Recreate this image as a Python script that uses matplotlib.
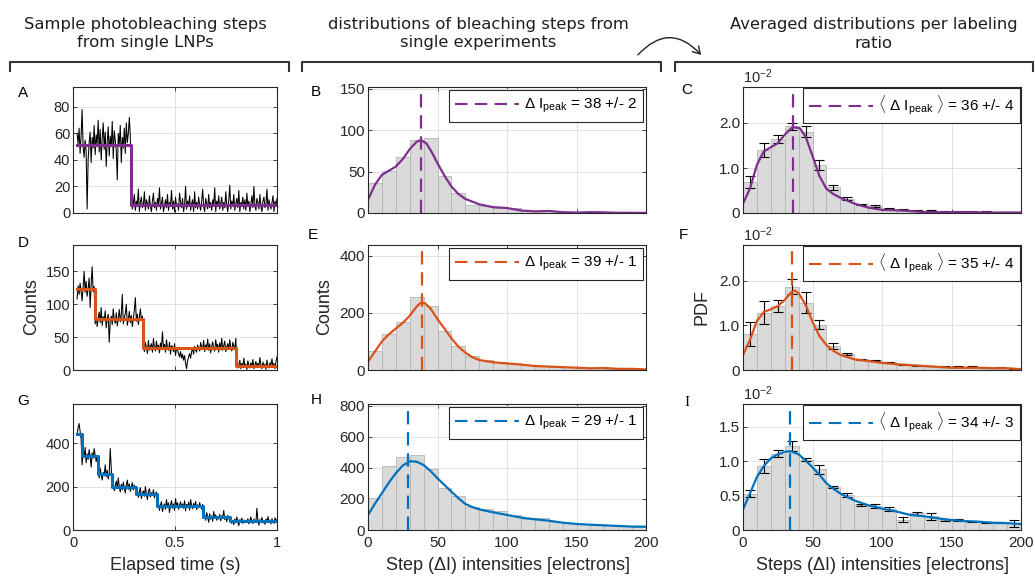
import numpy as np
import matplotlib.pyplot as plt
from matplotlib.lines import Line2D
from matplotlib.patches import FancyArrowPatch

plt.rcParams['font.family'] = ['Liberation Sans', 'DejaVu Sans']
plt.rcParams['mathtext.fontset'] = 'custom'
plt.rcParams['mathtext.rm'] = 'Liberation Sans'
plt.rcParams['mathtext.it'] = 'Liberation Sans:italic'

PURPLE = '#7E2F8E'
ORANGE = '#D95319'
BLUE = '#0072BD'
DARK = '#262626'

# ---- column 1: photobleaching traces (counts), sampled evenly from t0 to 1 s
trace_a = [60, 52, 64, 45, 58, 78, 50, 42, 55, 47, 3, 40, 53, 61, 38, 57, 49, 66, 44, 59,
           52, 70, 46, 63, 40, 56, 68, 48, 61, 35, 54, 65, 43, 58, 50, 69, 41, 62, 55, 47,
           25, 60, 52, 66, 38, 57, 49, 64, 45, 68, 53, 60, 72, 58,
           10, 3, 7, 14, 2, 9, 5, 18, 1, 8, 12, 4, 6, 16, 2, 10, 7, 3, 13, 5,
           1, 9, 15, 4, 8, 2, 11, 6, 19, 3, 7, 12, 1, 5, 10, 4, 14, 2, 8, 6,
           17, 3, 9, 1, 12, 5, 7, 2, 15, 8, 4, 11, 1, 6, 20, 3, 9, 5, 13, 2,
           7, 10, 1, 16, 4, 8, 3, 12, 6, 2, 9, 18, 5, 1, 11, 7, 3, 14, 4, 8,
           2, 10, 6, 19, 1, 9, 5, 13, 3, 7, 12, 2, 8, 4, 16, 6, 1, 10, 21, 3,
           9, 5, 14, 2, 7, 11, 4, 17, 1, 8, 6, 12, 3, 10, 2, 15, 5, 9, 1, 7,
           13, 4, 20, 6, 2, 11, 8, 3, 14, 5, 1, 9, 12, 4, 7, 18, 2, 10, 6, 3,
           8, 13, 1, 9, 5, 11]
steps_a_t = [0.02, 0.283, 1.0]
steps_a_y = [51, 6]

trace_d = [108, 128, 115, 132, 120, 105, 126, 150, 118, 135, 112, 124, 140, 95, 130, 157, 119, 127,
           70, 84, 66, 79, 88, 72, 95, 68, 81, 75, 90, 64, 78, 85, 42, 74, 82, 69, 93, 76,
           71, 87, 67, 80, 92, 73, 84, 115, 70, 79, 86, 100, 68, 77, 89, 72, 83, 66, 78, 91,
           110, 74, 85, 69, 80, 93, 75, 82,
           38, 28, 42, 33, 25, 45, 30, 36, 40, 27, 48, 34, 29, 44, 31, 38, 26, 41, 35, 58,
           32, 39, 27, 46, 33, 30, 42, 24, 37, 35, 28, 40, 22, 34, 30, 25, 20, 28, 18, 24,
           15, 22, 10, 2, 14, 20, 25, 18, 28, 32, 24, 36, 30, 27, 38, 33, 29, 42, 35, 31,
           45, 28, 38, 34, 47, 30, 40, 26, 36, 43, 32, 29, 46, 35, 39, 27, 41, 33, 48, 30,
           37, 44, 28, 35, 40, 31, 46, 34, 29, 42, 36, 33, 48,
           12, 3, 8, 15, 2, 10, 6, 18, 4, 9, 1, 14, 7, 3, 11, 5, 16, 2, 8, 13,
           4, 10, 6, 19, 7, 2, 12, 5, 9, 1, 15, 6, 3, 11, 8, 17, 4, 10, 2, 13, 20]
steps_d_t = [0.02, 0.108, 0.345, 0.80, 1.0]
steps_d_y = [123, 77, 33, 6]

trace_g = [440, 470, 490, 455, 420,
           300, 360, 335, 380, 310, 350, 325, 370, 340, 290, 355, 330, 375, 345, 315, 340,
           270, 240, 285, 255, 230, 265, 250, 300, 245, 275, 235, 260, 375, 280,
           195, 215, 180, 205, 225, 190, 240, 200, 175, 210, 185, 220, 195, 170, 205, 230,
           188, 212, 178, 200, 218, 185, 207, 192,
           160, 185, 150, 175, 195, 145, 170, 180, 155, 200, 165, 140, 178, 190, 152, 172,
           160, 185, 148, 168, 175,
           105, 125, 90, 115, 130, 85, 110, 120, 95, 140, 105, 125, 80, 115, 135, 100,
           120, 90, 145, 110, 125, 95, 115, 130, 105, 120, 100, 135, 88, 118, 108, 128,
           92, 140, 112, 98, 122, 106, 132, 94, 116, 102, 126, 110, 96, 118,
           55, 70, 45, 80, 60, 35, 75, 50, 65, 40, 85, 55, 70, 45, 60, 50, 72, 42, 66, 58,
           90, 48, 62, 38, 68, 54,
           40, 55, 30, 45, 25, 50, 35, 60, 40, 20, 48, 38, 55, 30, 45, 45, 40, 35, 52, 28,
           45, 60, 38, 30, 50, 42, 35, 100, 45, 22, 48, 36, 58, 32, 44, 26, 50, 40, 62, 34,
           46, 28, 52, 38, 30, 56, 42, 48]
steps_g_t = [0.02, 0.044, 0.121, 0.191, 0.31, 0.412, 0.637, 0.768, 1.0]
steps_g_y = [443, 341, 258, 197, 166, 112, 62, 43]

# ---- column 2: step histograms (bins of 10 electrons, 0..200) with KDE
bin_left = np.arange(0, 200, 10)

hist_b = [36, 51, 68, 88, 90, 45, 24, 10, 8, 6, 6, 3, 2, 3, 1, 1, 2, 1, 0.5, 0.5]
kde_b_x = [0, 5, 10, 15, 20, 25, 30, 35, 38, 42, 46, 50, 55, 60, 65, 70, 80, 90, 100,
           110, 120, 130, 140, 150, 160, 170, 180, 190, 200]
kde_b_y = [16, 34, 46, 51, 56, 65, 77, 86, 88, 84, 73, 60, 45, 32, 23, 17, 10.5, 7, 6,
           3, 2, 2.5, 1, 0.5, 1, 0.7, 0.3, 0.2, 0.1]
peak_b = 38

hist_e = [68, 126, 167, 255, 225, 137, 85, 49, 35, 29, 23, 17, 14, 12, 9, 8, 6, 5, 4, 4]
kde_e_x = [0, 5, 10, 15, 20, 25, 30, 35, 38, 41, 45, 50, 55, 60, 65, 70, 75, 80, 90, 100,
           110, 120, 130, 140, 150, 160, 170, 180, 190, 200]
kde_e_y = [29, 65, 100, 125, 145, 165, 190, 222, 236, 234, 215, 178, 145, 111, 82, 61, 45,
           35, 27, 23, 19, 14, 12, 10, 8, 6, 7, 4, 4, 2]
peak_e = 39

hist_h = [204, 413, 469, 482, 391, 269, 219, 150, 135, 125, 97, 69, 75, 54, 43, 39, 34, 30, 26, 22]
kde_h_x = [0, 5, 10, 15, 20, 25, 30, 35, 40, 45, 50, 55, 60, 65, 70, 75, 80, 90, 100,
           110, 120, 130, 140, 150, 160, 170, 180, 190, 200]
kde_h_y = [97, 170, 237, 305, 366, 415, 443, 440, 419, 380, 333, 290, 247, 205, 168, 148,
           133, 114, 97, 80, 69, 60, 47, 39, 34, 30, 26, 22, 21]
peak_h = 29

# ---- column 3: averaged PDFs (units of 1e-2) with error bars and KDE
pdf_c = [0.69, 1.40, 1.64, 1.93, 1.81, 1.07, 0.57, 0.32, 0.19, 0.15, 0.10, 0.07, 0.06, 0.05,
         0.04, 0.04, 0.03, 0.03, 0.02, 0.02]
err_c = [0.14, 0.16, 0.09, 0.075, 0.13, 0.105, 0.05, 0.04, 0.02, 0.02, 0.015, 0.01, 0.01,
         0.01, 0.008, 0.008, 0.006, 0.006, 0.005, 0.005]
kde_c_x = [0, 5, 10, 15, 20, 25, 30, 35, 38, 41, 45, 50, 55, 60, 65, 70, 80, 90, 100, 110,
           120, 130, 140, 150, 160, 170, 180, 190, 200]
kde_c_y = [0.21, 0.54, 1.07, 1.37, 1.46, 1.55, 1.74, 1.89, 1.90, 1.88, 1.70, 1.27, 0.82,
           0.54, 0.42, 0.34, 0.21, 0.12, 0.07, 0.06, 0.045, 0.02, 0.015, 0.015, 0.02, 0.015,
           0.01, 0.01, 0.01]
peak_c = 36

pdf_f = [0.81, 1.28, 1.43, 1.87, 1.51, 1.01, 0.54, 0.36, 0.24, 0.22, 0.17, 0.13, 0.11, 0.09,
         0.07, 0.07, 0.07, 0.05, 0.05, 0.04]
err_f = [0.27, 0.26, 0.14, 0.16, 0.23, 0.10, 0.075, 0.02, 0.015, 0.015, 0.015, 0.01, 0.01,
         0.01, 0.01, 0.01, 0.01, 0.01, 0.01, 0.008]
kde_f_x = [0, 5, 10, 15, 20, 25, 30, 35, 37, 40, 45, 50, 55, 60, 65, 70, 80, 90, 100, 110,
           120, 130, 140, 150, 160, 170, 180, 190, 200]
kde_f_y = [0.34, 0.67, 1.10, 1.30, 1.36, 1.43, 1.57, 1.75, 1.78, 1.72, 1.46, 1.08, 0.76,
           0.56, 0.43, 0.34, 0.24, 0.20, 0.16, 0.13, 0.11, 0.09, 0.07, 0.05, 0.05, 0.05,
           0.04, 0.04, 0.015]
peak_f = 35

pdf_i = [0.53, 0.93, 1.11, 1.22, 1.02, 0.88, 0.62, 0.51, 0.36, 0.35, 0.31, 0.15, 0.24, 0.20,
         0.145, 0.14, 0.12, 0.11, 0.105, 0.10]
err_i = [0.05, 0.10, 0.045, 0.075, 0.02, 0.065, 0.015, 0.03, 0.015, 0.03, 0.03, 0.035,
         0.025, 0.05, 0.012, 0.015, 0.01, 0.012, 0.01, 0.05]
kde_i_x = [0, 5, 10, 15, 20, 25, 30, 34, 40, 45, 50, 55, 60, 65, 70, 80, 90, 100, 110, 120,
           130, 140, 150, 160, 170, 180, 190, 200]
kde_i_y = [0.30, 0.53, 0.77, 0.93, 1.04, 1.10, 1.135, 1.145, 1.10, 1.01, 0.91, 0.80, 0.68,
           0.60, 0.53, 0.43, 0.36, 0.31, 0.27, 0.22, 0.20, 0.17, 0.145, 0.13, 0.12, 0.105,
           0.10, 0.087]
peak_i = 34

W, H = 1035, 578
fig = plt.figure(figsize=(W / 100, H / 100), dpi=100)


def add_ax(l, t, r, b):
    return fig.add_axes([l / W, 1 - b / H, (r - l) / W, (b - t) / H])


def fx(x):
    return x / W


def fy(y):
    return 1 - y / H


def style(ax, fs):
    ax.tick_params(direction='in', length=3, width=0.6, top=True, right=True,
                   labelsize=fs, colors=DARK, pad=2)
    ax.tick_params(axis='x', pad=4)
    for s in ax.spines.values():
        s.set_color(DARK)
        s.set_linewidth(0.8)
    ax.grid(True, color='#e2e2e2', lw=0.7)
    ax.set_axisbelow(True)


def trace_panel(ax, y, st_t, st_y, color, top, yticks, bottom_row):
    t = np.linspace(st_t[0], 1.0, len(y))
    ax.plot(t, y, color='k', lw=0.75)
    ax.step(st_t, st_y + [st_y[-1]], where='post', color=color, lw=2.2)
    ax.set_xlim(0, 1)
    ax.set_ylim(0, top)
    ax.set_yticks(yticks)
    ax.set_xticks([0, 0.5, 1])
    style(ax, 10.5)
    if bottom_row:
        ax.set_xticklabels(['0', '0.5', '1'])
    else:
        ax.set_xticklabels([])


def add_legend(ax, color, label, pad):
    h = Line2D([], [], color=color, lw=1.5, dashes=(6, 3.5))
    leg = ax.legend([h], [label], loc='upper right', fontsize=11, handlelength=4.2,
                    fancybox=False, framealpha=1, edgecolor=DARK, borderaxespad=pad,
                    handletextpad=0.3, borderpad=0.4)
    leg.get_frame().set_linewidth(0.8)


def hist_panel(ax, counts, kx, ky, peak, color, top, yticks, bottom_row):
    ax.bar(bin_left, counts, width=10, align='edge', color='#dadada',
           edgecolor='#b4b4b4', lw=0.6)
    ax.plot(kx, ky, color=color, lw=1.6)
    ax.axvline(peak, color=color, lw=1.6, dashes=(6, 3.5))
    ax.set_xlim(0, 200)
    ax.set_ylim(0, top)
    ax.set_xticks([0, 50, 100, 150, 200])
    ax.set_yticks(yticks)
    style(ax, 11)
    if not bottom_row:
        ax.set_xticklabels([])


def pdf_panel(ax, pdf, err, kx, ky, peak, color, top, yticks, yticklabels, bottom_row):
    ax.bar(bin_left, pdf, width=10, align='edge', color='#dadada',
           edgecolor='#b4b4b4', lw=0.6)
    ax.errorbar(bin_left + 5, pdf, yerr=err, fmt='none', ecolor='k', elinewidth=0.8,
                capsize=3.6, capthick=0.8)
    ax.plot(kx, ky, color=color, lw=1.6)
    ax.axvline(peak, color=color, lw=1.6, dashes=(6, 3.5))
    ax.set_xlim(0, 200)
    ax.set_ylim(0, top)
    ax.set_xticks([0, 50, 100, 150, 200])
    ax.set_yticks(yticks)
    ax.set_yticklabels(yticklabels)
    style(ax, 11)
    ax.text(0, 1.01, r'10$^{-2}$', transform=ax.transAxes, ha='left', va='bottom',
            fontsize=10.5, color=DARK)
    if not bottom_row:
        ax.set_xticklabels([])


rows = [(87, 213), (245, 370), (404, 530)]
c1 = (73, 277)
c2 = (368, 646)
c3 = (743, 1021)

ax_a = add_ax(c1[0], rows[0][0], c1[1], rows[0][1])
trace_panel(ax_a, trace_a, steps_a_t, steps_a_y, PURPLE, 95, [0, 20, 40, 60, 80], False)
ax_d = add_ax(c1[0], rows[1][0], c1[1], rows[1][1])
trace_panel(ax_d, trace_d, steps_d_t, steps_d_y, ORANGE, 190, [0, 50, 100, 150], False)
ax_g = add_ax(c1[0], rows[2][0], c1[1], rows[2][1])
trace_panel(ax_g, trace_g, steps_g_t, steps_g_y, BLUE, 580, [0, 200, 400], True)

ax_b = add_ax(c2[0], rows[0][0], c2[1], rows[0][1])
hist_panel(ax_b, hist_b, kde_b_x, kde_b_y, peak_b, PURPLE, 152, [0, 50, 100, 150], False)
add_legend(ax_b, PURPLE, '$\\Delta$ I$_{\\mathrm{peak}}$ = 38 +/- 2', 0.2)
ax_e = add_ax(c2[0], rows[1][0], c2[1], rows[1][1])
hist_panel(ax_e, hist_e, kde_e_x, kde_e_y, peak_e, ORANGE, 438, [0, 200, 400], False)
add_legend(ax_e, ORANGE, '$\\Delta$ I$_{\\mathrm{peak}}$ = 39 +/- 1', 0.2)
ax_h = add_ax(c2[0], rows[2][0], c2[1], rows[2][1])
hist_panel(ax_h, hist_h, kde_h_x, kde_h_y, peak_h, BLUE, 812, [0, 200, 400, 600, 800], True)
add_legend(ax_h, BLUE, '$\\Delta$ I$_{\\mathrm{peak}}$ = 29 +/- 1', 0.2)

ax_c = add_ax(c3[0], rows[0][0], c3[1], rows[0][1])
pdf_panel(ax_c, pdf_c, err_c, kde_c_x, kde_c_y, peak_c, PURPLE, 2.8, [0, 1, 2],
          ['0', '1.0', '2.0'], False)
add_legend(ax_c, PURPLE, '$\\langle$ $\\Delta$ I$_{\\mathrm{peak}}$ $\\rangle$ = 36 +/- 4', 0.05)
ax_f = add_ax(c3[0], rows[1][0], c3[1], rows[1][1])
pdf_panel(ax_f, pdf_f, err_f, kde_f_x, kde_f_y, peak_f, ORANGE, 2.8, [0, 1, 2],
          ['0', '1.0', '2.0'], False)
add_legend(ax_f, ORANGE, '$\\langle$ $\\Delta$ I$_{\\mathrm{peak}}$ $\\rangle$ = 35 +/- 4', 0.05)
ax_i = add_ax(c3[0], rows[2][0], c3[1], rows[2][1])
pdf_panel(ax_i, pdf_i, err_i, kde_i_x, kde_i_y, peak_i, BLUE, 1.83, [0, 0.5, 1.0, 1.5],
          ['0', '0.5', '1.0', '1.5'], True)
add_legend(ax_i, BLUE, '$\\langle$ $\\Delta$ I$_{\\mathrm{peak}}$ $\\rangle$ = 34 +/- 3', 0.05)

# axis labels
fig.text(fx(32), fy(307), 'Counts', rotation=90, ha='center', va='center', fontsize=13, color=DARK)
fig.text(fx(325), fy(307), 'Counts', rotation=90, ha='center', va='center', fontsize=13, color=DARK)
fig.text(fx(702), fy(307), 'PDF', rotation=90, ha='center', va='center', fontsize=13, color=DARK)
fig.text(fx(175), fy(566), 'Elapsed time (s)', ha='center', va='center', fontsize=13, color=DARK)
fig.text(fx(507), fy(566), 'Step ($\\Delta$I) intensities [electrons]', ha='center',
         va='center', fontsize=13, color=DARK)
fig.text(fx(882), fy(566), 'Steps ($\\Delta$I) intensities [electrons]', ha='center',
         va='center', fontsize=13, color=DARK)

# panel letters
letters = [('A', 23, 93), ('D', 23, 243), ('G', 23, 401),
           ('B', 316, 92), ('E', 313, 235), ('H', 316, 400),
           ('C', 687, 90), ('F', 683, 235)]
for s, x, y in letters:
    fig.text(fx(x), fy(y), s, ha='center', va='center', fontsize=11, color='k')
fig.text(fx(687), fy(403), 'I', ha='center', va='center', fontsize=11, color='k',
         family='Liberation Serif')

# column headers
headers = [('Sample photobleaching steps\nfrom single LNPs', 145),
           ('distributions of bleaching steps from\nsingle experiments', 478),
           ('Averaged distributions per labeling\nratio', 874)]
for s, x in headers:
    fig.text(fx(x), fy(34), s, ha='center', va='center', fontsize=11.8, color='#1e1e1e',
             family='DejaVu Sans', linespacing=1.25)

# brackets under headers
for l, r in [(10, 289), (302, 661), (675, 1033)]:
    fig.add_artist(Line2D([fx(l), fx(l), fx(r), fx(r)], [fy(71), fy(62), fy(62), fy(71)],
                          color='#333333', lw=1.5, transform=fig.transFigure))

arrow = FancyArrowPatch((fx(636), fy(57)), (fx(703), fy(57)), transform=fig.transFigure,
                        connectionstyle='arc3,rad=-0.57', arrowstyle='->,head_length=5,head_width=3',
                        color='#222222', lw=1.0)
fig.add_artist(arrow)

fig.savefig('out.png', dpi=100)
